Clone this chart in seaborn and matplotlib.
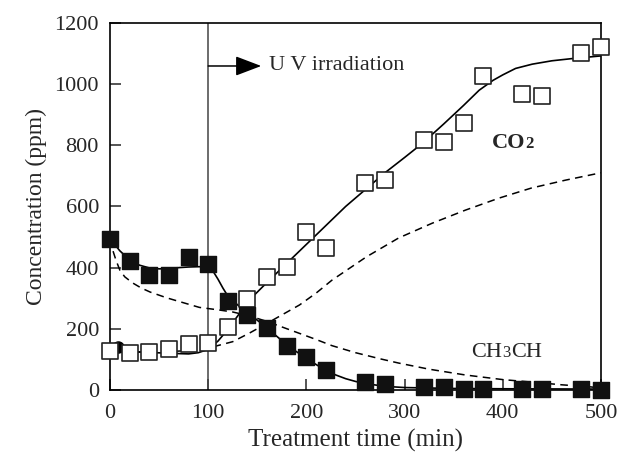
import matplotlib
matplotlib.use("Agg")
import matplotlib.pyplot as plt
from matplotlib import transforms
import seaborn as sns

# measured data
co2_t = [0, 20, 40, 60, 80, 100, 120, 140, 160, 180, 200, 220, 260, 280, 320, 340, 360, 380, 420, 440, 480, 500]
co2_v = [127, 120, 124, 133, 150, 154, 206, 298, 370, 403, 517, 463, 677, 686, 817, 811, 873, 1026, 968, 961, 1100, 1121]

ald_t = [0, 20, 40, 60, 80, 100, 120, 140, 160, 180, 200, 220, 260, 280, 320, 340, 360, 380, 420, 440, 480, 500]
ald_v = [495, 422, 376, 376, 435, 411, 290, 245, 203, 144, 108, 65, 26, 20, 10, 10, 3, 3, 4, 3, 3, 1]

# fitted (solid) curves
co2_fit_t = [0, 20, 40, 60, 80, 90, 100, 110, 120, 130, 140, 160, 180, 200, 220, 240, 260, 280, 300, 318, 340, 360, 376, 390, 400, 413, 430, 450, 470, 500]
co2_fit_v = [130, 126, 123, 120, 118, 122, 133, 160, 198, 242, 288, 352, 414, 476, 538, 600, 655, 710, 760, 806, 870, 930, 980, 1012, 1030, 1051, 1065, 1076, 1083, 1092]

ald_fit_t = [0, 10, 20, 30, 40, 50, 60, 70, 80, 90, 100, 105, 110, 115, 120, 130, 140, 150, 160, 170, 180, 190, 200, 210, 220, 230, 240, 250, 260, 280, 300, 350, 400, 500]
ald_fit_v = [495, 455, 425, 408, 399, 396, 397, 400, 402, 403, 403, 388, 362, 333, 307, 278, 255, 228, 203, 175, 148, 125, 104, 83, 64, 49, 37, 28, 21, 12, 8, 5, 4, 3]

# model (dashed) curves
co2_mod_t = [0, 25, 50, 75, 100, 125, 142, 166, 193, 210, 226, 261, 294, 328, 362, 396, 429, 464, 500]
co2_mod_v = [125, 124, 124, 128, 137, 158, 186, 229, 278, 317, 359, 435, 497, 545, 588, 627, 660, 686, 710]

ald_mod_t = [0, 3, 6, 10, 15, 23, 32, 41, 58, 75, 91, 110, 125, 142, 159, 176, 193, 210, 226, 250, 275, 294, 325, 362, 400, 429, 460, 490, 500]
ald_mod_v = [495, 455, 425, 392, 370, 350, 333, 320, 301, 285, 270, 262, 255, 242, 225, 205, 185, 165, 145, 122, 102, 88, 68, 49, 34, 26, 17, 10, 6]

uv_time = 100

sns.set_theme(style="ticks")
plt.rcParams["font.family"] = ["Liberation Serif", "DejaVu Serif"]
plt.rcParams["font.size"] = 16

fig = plt.figure(figsize=(6.18, 4.57), dpi=100)
ax = fig.add_axes([0.178, 0.1466, 0.7945, 0.8034])

dash = (0, (5, 3.5))
sns.lineplot(x=co2_mod_t, y=co2_mod_v, ax=ax, color="black", lw=1.1,
             linestyle=dash, estimator=None, sort=False, zorder=2)
sns.lineplot(x=ald_mod_t, y=ald_mod_v, ax=ax, color="black", lw=1.1,
             linestyle=dash, estimator=None, sort=False, zorder=2)
sns.lineplot(x=co2_fit_t, y=co2_fit_v, ax=ax, color="black", lw=1.2,
             estimator=None, sort=False, zorder=2)
sns.lineplot(x=ald_fit_t, y=ald_fit_v, ax=ax, color="black", lw=1.2,
             estimator=None, sort=False, zorder=2)

# small dot near origin
ax.plot([8], [140], marker="o", ms=8, color="black", zorder=3, clip_on=False)

sns.scatterplot(x=co2_t, y=co2_v, ax=ax, marker="s", s=125, facecolor="white",
                edgecolor="#222222", linewidth=1.2, zorder=4, clip_on=False)
sns.scatterplot(x=ald_t, y=ald_v, ax=ax, marker="s", s=125, color="#111111",
                edgecolor="#111111", linewidth=1.0, zorder=5, clip_on=False)

ax.axvline(uv_time, color="#444444", lw=1.1, zorder=1)
ax.annotate("", xy=(154, 1059), xytext=(uv_time, 1059),
            arrowprops=dict(arrowstyle="-|>,head_length=1.0,head_width=0.38",
                            color="black", lw=1.1, shrinkA=0, shrinkB=0))
ax.text(162, 1059, "U V irradiation", fontsize=16, va="center", ha="left")

ax.set_xlim(0, 500)
ax.set_ylim(0, 1200)
ax.set_xticks([0, 100, 200, 300, 400, 500])
ax.set_yticks([0, 200, 400, 600, 800, 1000, 1200])
ax.tick_params(direction="in", length=8, width=1.1, labelsize=16, pad=10)
ax.tick_params(axis="y", pad=8)
for s in ax.spines.values():
    s.set_visible(True)
    s.set_linewidth(1.2)
    s.set_color("black")

ax.set_xlabel("Treatment time (min)", fontsize=18, labelpad=4)
ax.set_ylabel("Concentration (ppm)", fontsize=17, labelpad=5)


def pieces(x, y, parts):
    fig.canvas.draw()
    renderer = fig.canvas.get_renderer()
    t = ax.transData
    for txt, size, weight, gap in parts:
        tx = ax.text(x, y, txt, fontsize=size, fontweight=weight,
                     va="baseline", ha="left", transform=t)
        tx.draw(renderer)
        ex = tx.get_window_extent(renderer=renderer)
        t = transforms.offset_copy(tx.get_transform(), fig=fig,
                                   x=ex.width * 72 / fig.dpi + gap, units="points")


pieces(389, 790, [("CO", 16, "bold", 0.1), ("2", 12, "bold", 0)])
pieces(368, 108, [("CH", 16, "normal", 0.3), ("3", 12, "normal", 0.3), ("CH", 16, "normal", 0)])

fig.savefig("out.png", dpi=100)
